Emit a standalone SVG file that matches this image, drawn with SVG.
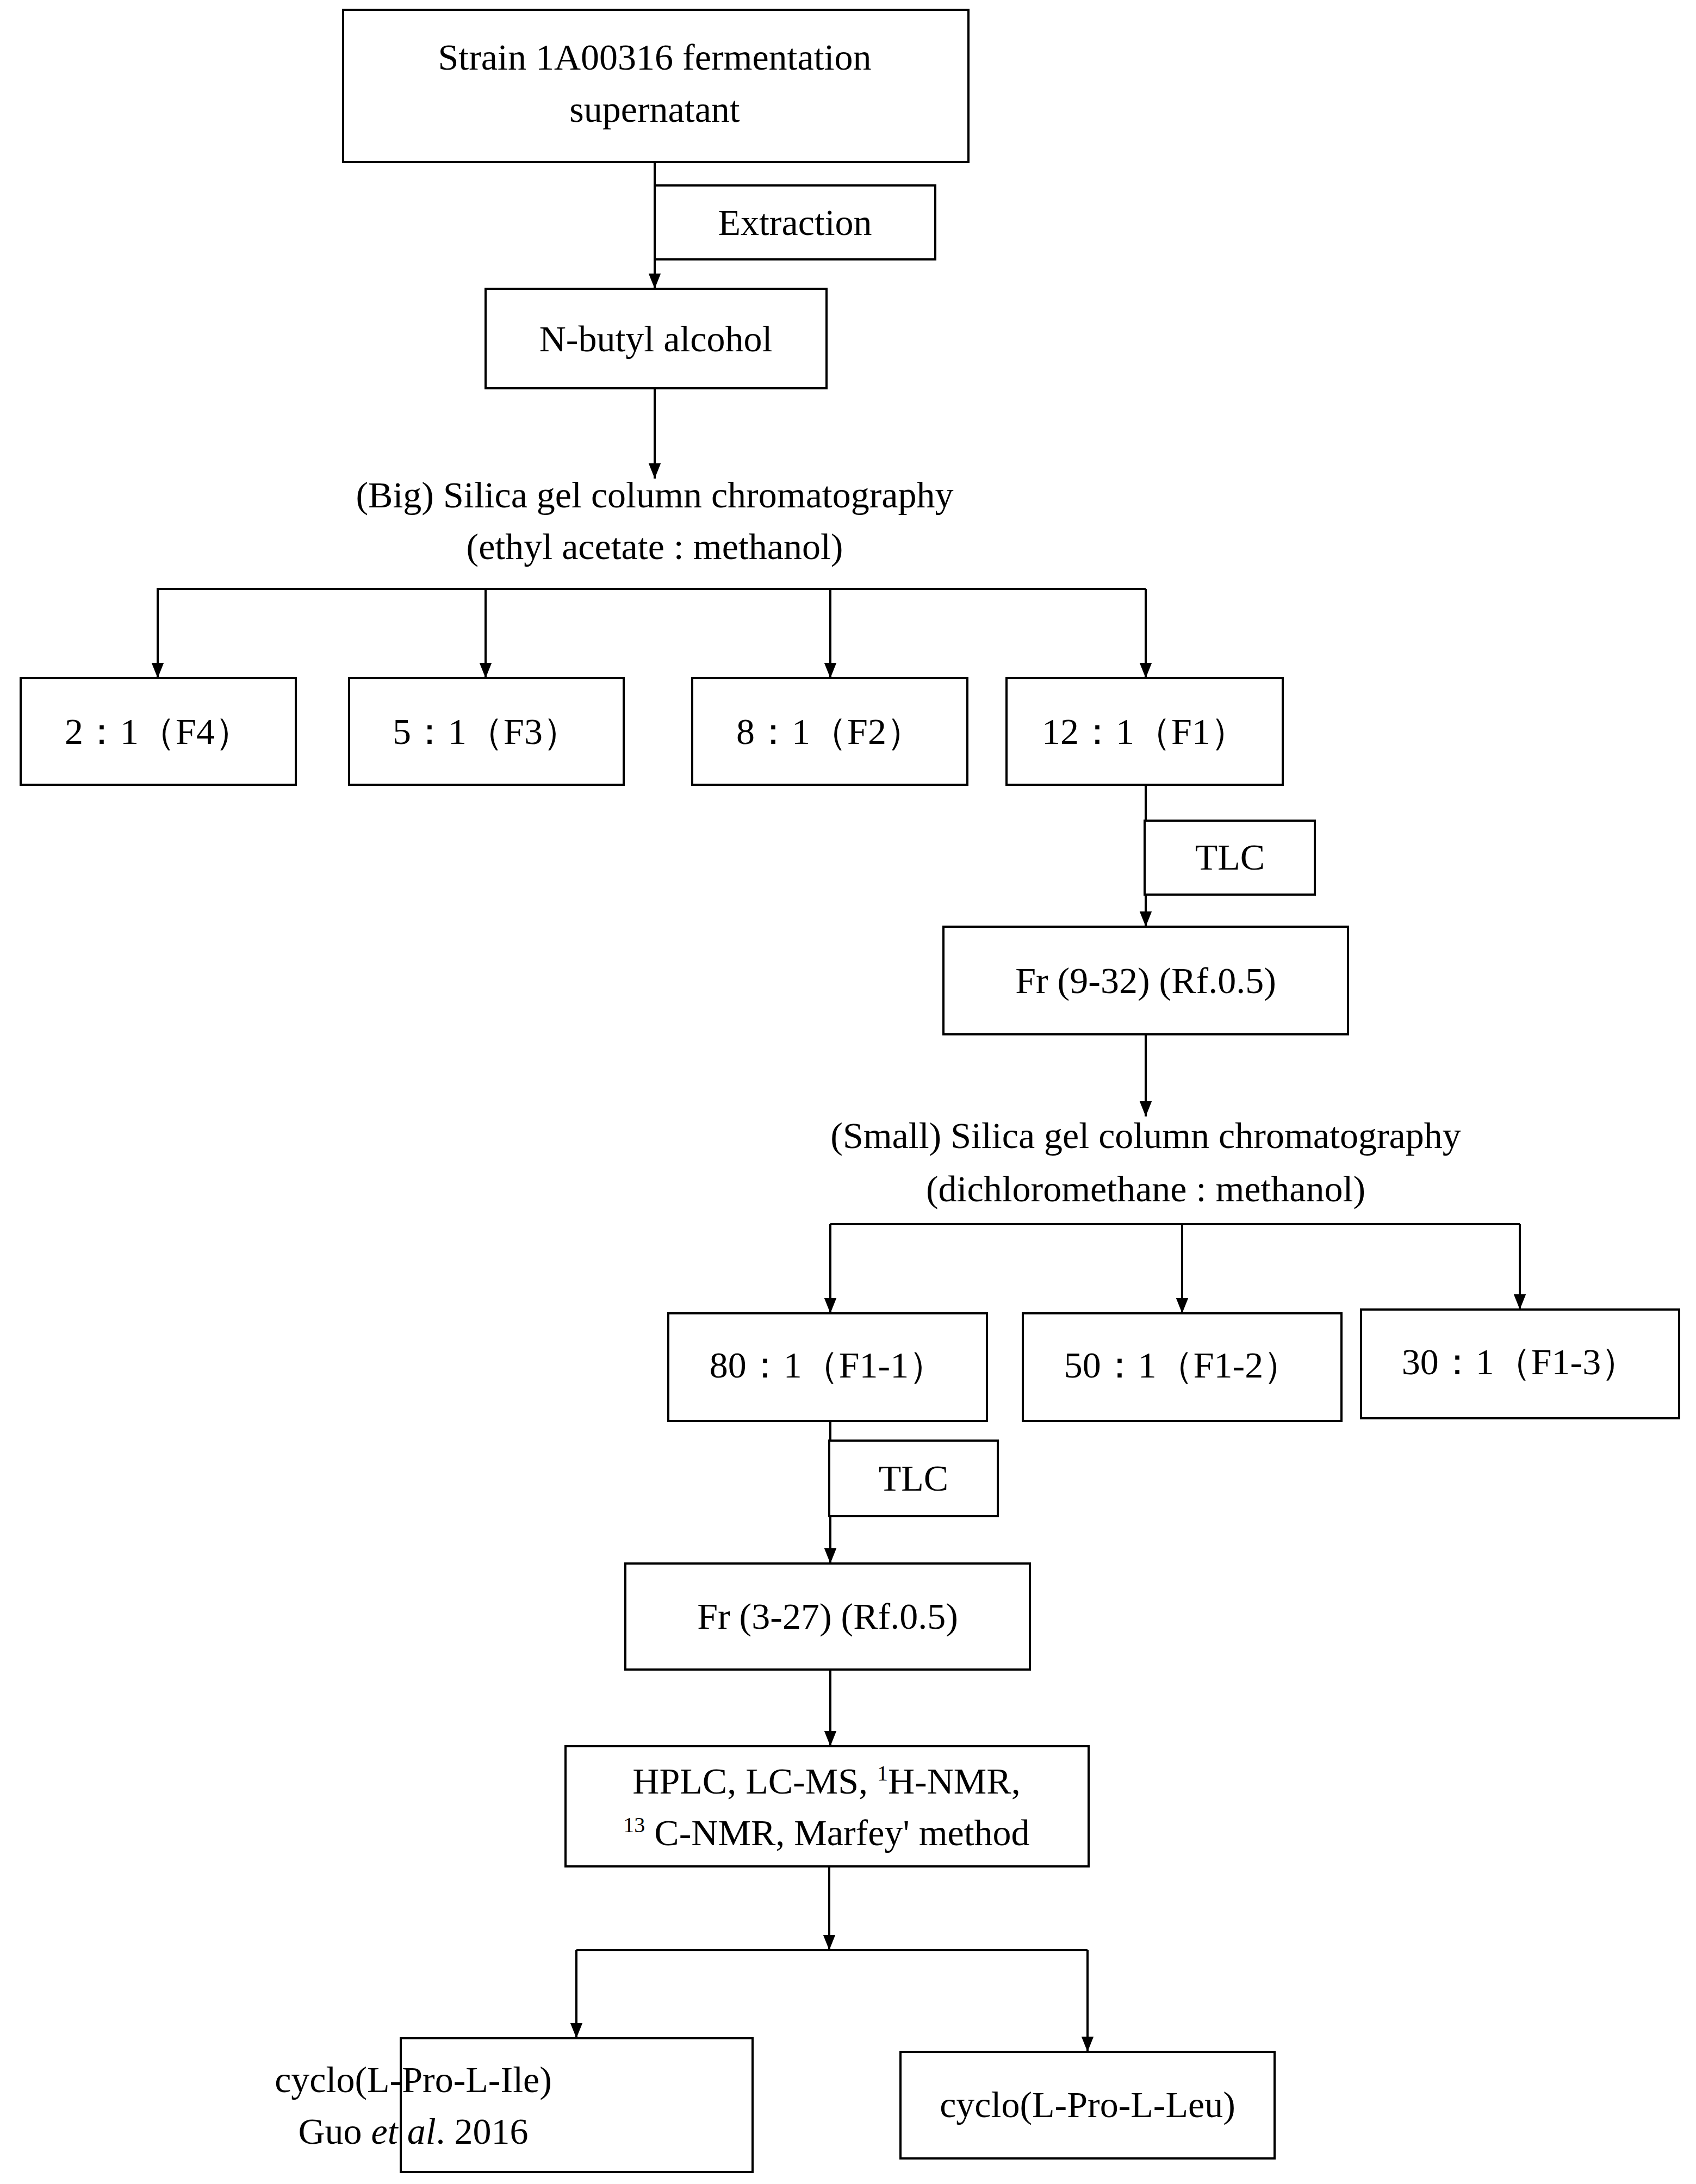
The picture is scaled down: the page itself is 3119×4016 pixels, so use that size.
<svg xmlns="http://www.w3.org/2000/svg" width="3119" height="4016" viewBox="0 0 3119 4016">
<style>
.b{fill:#fff;stroke:#000;stroke-width:4}
.l{fill:none;stroke:#000;stroke-width:4}
.a{marker-end:url(#ar)}
text{font-family:"Liberation Serif",serif;font-size:68px;fill:#000;text-anchor:middle}
</style>
<defs><marker id="ar" markerWidth="10" markerHeight="10" refX="9" refY="5" orient="auto" markerUnits="userSpaceOnUse" viewBox="0 0 10 10"><path d="M0,0 L10,5 L0,10 z" fill="#000" transform="scale(1)"/></marker>
<marker id="ah" viewBox="0 0 10 10" refX="10" refY="5" markerWidth="28" markerHeight="28" markerUnits="userSpaceOnUse" orient="auto"><path d="M0,1 L10,5 L0,9 z" fill="#000"/></marker></defs>
<g id="connectors">
<path class="l" marker-end="url(#ah)" d="M1204,298 V531"/>
<path class="l" marker-end="url(#ah)" d="M1204,714 V880"/>
<path class="l" d="M290,1247 V1083 H2107"/>
<path class="l" marker-end="url(#ah)" d="M290,1083 V1247"/>
<path class="l" marker-end="url(#ah)" d="M893,1083 V1247"/>
<path class="l" marker-end="url(#ah)" d="M1527,1083 V1247"/>
<path class="l" marker-end="url(#ah)" d="M2107,1083 V1247"/>
<path class="l" marker-end="url(#ah)" d="M2107,1443 V1704"/>
<path class="l" marker-end="url(#ah)" d="M2107,1902 V2053"/>
<path class="l" d="M1527,2251 H2795"/>
<path class="l" marker-end="url(#ah)" d="M1527,2251 V2415"/>
<path class="l" marker-end="url(#ah)" d="M2174,2251 V2415"/>
<path class="l" marker-end="url(#ah)" d="M2795,2251 V2408"/>
<path class="l" marker-end="url(#ah)" d="M1527,2613 V2875"/>
<path class="l" marker-end="url(#ah)" d="M1527,3070 V3211"/>
<path class="l" marker-end="url(#ah)" d="M1525,3432 V3586"/>
<path class="l" d="M1060,3586 H2000"/>
<path class="l" marker-end="url(#ah)" d="M1060,3586 V3748"/>
<path class="l" marker-end="url(#ah)" d="M2000,3586 V3773"/>
</g>
<g id="n1"><rect class="b" x="631" y="18" width="1150" height="280"/><text x="1204" y="128">Strain 1A00316 fermentation</text><text x="1204" y="224">supernatant</text></g>
<g id="ext"><rect class="b" x="1204" y="341" width="516" height="136"/><text x="1462" y="432">Extraction</text></g>
<g id="n2"><rect class="b" x="893" y="531" width="627" height="183"/><text x="1206" y="646">N-butyl alcohol</text></g>
<g id="n3"><text x="1204" y="933">(Big) Silica gel column chromatography</text><text x="1204" y="1028">(ethyl acetate : methanol)</text></g>
<g id="f4"><rect class="b" x="38" y="1247" width="506" height="196"/><text x="291" y="1368">2：1（F4）</text></g>
<g id="f3"><rect class="b" x="642" y="1247" width="505" height="196"/><text x="894" y="1368">5：1（F3）</text></g>
<g id="f2"><rect class="b" x="1273" y="1247" width="506" height="196"/><text x="1526" y="1368">8：1（F2）</text></g>
<g id="f1"><rect class="b" x="1851" y="1247" width="508" height="196"/><text x="2105" y="1368">12：1（F1）</text></g>
<g id="tlc1"><rect class="b" x="2105" y="1509" width="313" height="136"/><text x="2262" y="1599">TLC</text></g>
<g id="fr1"><rect class="b" x="1735" y="1704" width="744" height="198"/><text x="2107" y="1826">Fr (9-32) (Rf.0.5)</text></g>
<g id="n4"><text x="2107" y="2111">(Small) Silica gel column chromatography</text><text x="2107" y="2209">(dichloromethane : methanol)</text></g>
<g id="f11"><rect class="b" x="1229" y="2415" width="586" height="198"/><text x="1522" y="2533">80：1（F1-1）</text></g>
<g id="f12"><rect class="b" x="1881" y="2415" width="586" height="198"/><text x="2174" y="2533">50：1（F1-2）</text></g>
<g id="f13"><rect class="b" x="2503" y="2408" width="585" height="200"/><text x="2795" y="2527">30：1（F1-3）</text></g>
<g id="tlc2"><rect class="b" x="1525" y="2649" width="310" height="139"/><text x="1680" y="2741">TLC</text></g>
<g id="fr2"><rect class="b" x="1150" y="2875" width="744" height="195"/><text x="1522" y="2995">Fr (3-27) (Rf.0.5)</text></g>
<g id="hplc"><rect class="b" x="1040" y="3211" width="962" height="221"/><text x="1520" y="3298">HPLC, LC-MS, <tspan font-size="40" dy="-24">1</tspan><tspan dy="24">H-NMR,</tspan></text><text x="1520" y="3393"><tspan font-size="40" dy="-24">13</tspan><tspan dy="24"> C-NMR, Marfey' method</tspan></text></g>
<g id="ile"><rect class="b" x="737" y="3748" width="647" height="246"/><text x="760" y="3847" text-anchor="start">cyclo(L-Pro-L-Ile)</text><text x="760" y="3942" text-anchor="start">Guo <tspan font-style="italic">et al</tspan>. 2016</text></g>
<g id="leu"><rect class="b" x="1656" y="3773" width="688" height="196"/><text x="2000" y="3893">cyclo(L-Pro-L-Leu)</text></g>
</svg>
